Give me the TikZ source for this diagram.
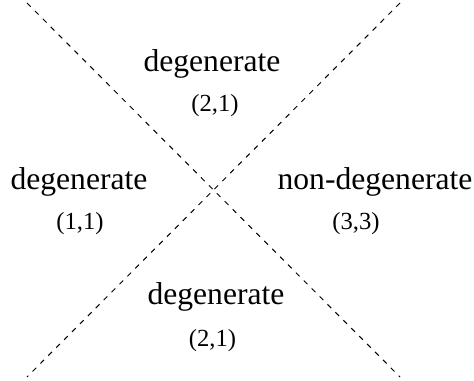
\documentclass[tikz,border=0pt]{standalone}
\usepackage{fontspec}
\setmainfont{Liberation Serif}
\usepackage{tikz}
\usetikzlibrary{positioning}

\tikzset{
  region/.style={anchor=base, inner sep=0pt, font=\fontsize{15.8bp}{19bp}\selectfont},
  count/.style={anchor=base, inner sep=0pt, font=\fontsize{12.3bp}{15bp}\selectfont},
  boundary/.style={dash pattern=on 2.6bp off 3bp, line width=0.5bp}
}

\begin{document}
\begin{tikzpicture}[x=0.5bp, y=0.5bp]
			\useasboundingbox (-213.5,190) rectangle (260.5,-191);
			
			% Estremi delle diagonali
			\coordinate (nw) at (-186.5,187);
			\coordinate (se) at (186.5,-187);
			\coordinate (ne) at (186.5,187);
			\coordinate (sw) at (-186.5,-187);
			
			% Diagonali tratteggiate
			\draw[boundary] (nw) -- (se);
			\draw[boundary] (ne) -- (sw);
			
			% Regioni
			\node[region] (degN) at (-1.5,118) {degenerate};
			\node[count] (cntN) at (1.5,78.5) {(2,1)};
			
			\node[region] (degW) at (-134.5,0) {degenerate};
			\node[count] (cntW) at (-133.5,-40) {(1,1)};
			
			\node[region] (nondegE) at (161.5,0) {non-degenerate};
			\node[count] (cntE) at (142.5,-40) {(3,3)};
			
			\node[region] (degS) at (2.5,-115) {degenerate};
			\node[count] (cntS) at (-1,-156.5) {(2,1)};
		\end{tikzpicture}
\end{document}
